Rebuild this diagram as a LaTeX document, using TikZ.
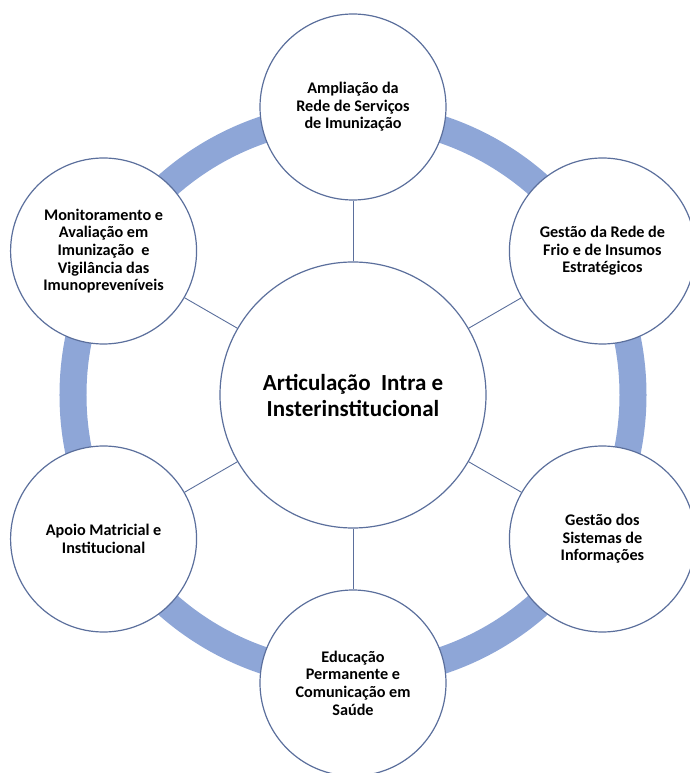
\documentclass[tikz,border=0pt]{standalone}
\usepackage{fontspec}
\setmainfont{Carlito}
\usepackage{tikz}
\usepackage{xcolor}
\definecolor{ringblue}{HTML}{8EA6D7}
\definecolor{edgeblue}{HTML}{5B6F9C}

\begin{document}
\begin{tikzpicture}[
  spoke/.style={circle,draw=edgeblue,line width=1.2pt,fill=white,minimum size=186pt,inner sep=0pt,align=center,font=\bfseries\fontsize{16.2}{17.6}\selectfont},
  hubnode/.style={circle,draw=edgeblue,line width=1.2pt,fill=white,minimum size=266pt,inner sep=0pt,align=center,font=\bfseries\fontsize{23}{26}\selectfont}]
\useasboundingbox (-353pt,-378pt) rectangle (336pt,395pt);
% outer band behind everything
\draw[ringblue,line width=27pt] (0,0) circle (280pt);
\node[hubnode] (hub) at (0,0) {Articulação\ \ Intra e\\Insterinstitucional};
\node[spoke] (ampl) at (90:288pt) {Ampliação da\\Rede de Serviços\\de Imunização};
\node[spoke] (frio) at (30:288pt) {Gestão da Rede de\\Frio e de Insumos\\Estratégicos};
\node[spoke] (sist) at (-30:288pt) {Gestão dos\\Sistemas de\\Informações};
\node[spoke] (educ) at (-90:288pt) {Educação\\Permanente e\\Comunicação em\\Saúde};
\node[spoke] (apoio) at (210:288pt) {Apoio Matricial e\\Institucional};
\node[spoke] (moni) at (150:288pt) {Monitoramento e\\Avaliação em\\Imunização\ \ e\\Vigilância das\\Imunopreveníveis};
% spokes from the hub
\foreach \n in {ampl,frio,sist,educ,apoio,moni}
  \draw[edgeblue,line width=0.9pt] (hub) -- (\n);
\end{tikzpicture}
\end{document}
